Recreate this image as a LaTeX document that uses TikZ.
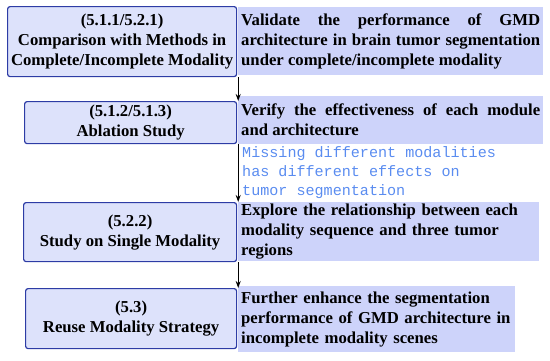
\documentclass[tikz,border=0pt]{standalone}
\usepackage{fontspec}
\setmainfont{Liberation Serif}
\newfontfamily\monofnt{Liberation Mono}
\usetikzlibrary{arrows.meta}
\definecolor{lfill}{RGB}{221,226,251}
\definecolor{lborder}{RGB}{45,60,165}
\definecolor{rfill}{RGB}{205,211,250}
\definecolor{bluetxt}{RGB}{90,140,240}
\newcommand{\nohy}{\hyphenpenalty=10000\exhyphenpenalty=10000\relax}
\tikzset{
  lbox/.style={draw=lborder, fill=lfill, line width=1.2pt, rounded corners=2.5pt, anchor=north west, align=center, inner sep=1pt,
    font=\fontsize{16.7}{20}\selectfont\bfseries},
  rbox/.style={fill=rfill, anchor=north west, inner xsep=3pt, inner ysep=2pt,
    font=\fontsize{16.7}{20}\selectfont\bfseries\nohy},
  arr/.style={-{Stealth[length=7pt,width=5pt]}, line width=1.2pt, black},
}
\begin{document}
\begin{tikzpicture}[x=1pt,y=-1pt]
\useasboundingbox (0,0) rectangle (550,360);
\node[lbox, minimum width=229, minimum height=70] (b1) at (7,6) {(5.1.1/5.2.1)\\Comparison with Methods in\\Complete/Incomplete Modality};
\node[lbox, minimum width=212, minimum height=42] (b2) at (24,101) {(5.1.2/5.1.3)\\Ablation Study};
\node[lbox, minimum width=213, minimum height=59] (b3) at (23,202) {(5.2.2)\\Study on Single Modality};
\node[lbox, minimum width=211, minimum height=60] (b4) at (25,288) {(5.3)\\Reuse Modality Strategy};

\node[rbox, minimum width=305, minimum height=68, text width=299, align=justify] (r1) at (238,7)
  {Validate the performance of GMD architecture in brain tumor segmentation under complete/incomplete modality};
\node[rbox, minimum width=305, minimum height=48, text width=299, align=justify] (r2) at (238,96)
  {Verify the effectiveness of each module\linebreak and architecture};
\node[rbox, minimum width=301, minimum height=59, text width=295, align=left] (r3) at (238,202)
  {Explore the relationship between each modality sequence and three tumor regions};
\node[rbox, minimum width=277, minimum height=66, text width=271, align=left] (r4) at (238,286)
  {Further enhance the segmentation performance of GMD architecture in incomplete modality scenes};

\node[anchor=north west, inner sep=0pt, align=left, text=bluetxt, font=\fontsize{15.1}{19}\selectfont\monofnt] (note) at (242,146)
  {Missing different modalities\\has different effects on\\tumor segmentation};

\draw[arr] ([xshift=1pt]b1.south east) -- ([xshift=1pt]b2.north east);
\draw[arr] ([xshift=1pt]b2.south east) -- ([xshift=1pt]b3.north east);
\draw[arr] ([xshift=1pt]b3.south east) -- ([xshift=1pt]b4.north east);
\end{tikzpicture}
\end{document}
